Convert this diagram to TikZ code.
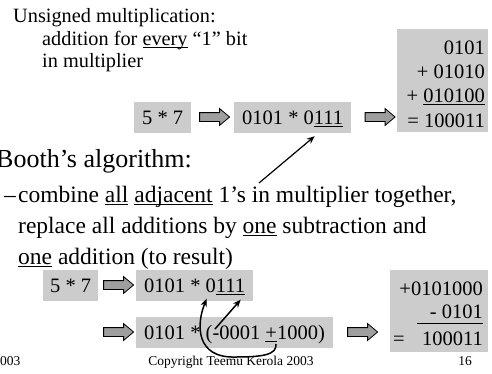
\documentclass[tikz,border=0pt]{standalone}
\usepackage{fontspec}
\setmainfont{Liberation Serif}
\usetikzlibrary{shapes.arrows,arrows.meta}
\definecolor{boxgray}{RGB}{204,204,204}
\definecolor{arrowgray}{RGB}{158,158,158}
% underline drawn as a rule just below the baseline
\newcommand{\undl}[1]{\leavevmode\setbox0=\hbox{#1}\rlap{\rule[-3pt]{\wd0}{0.9pt}}\box0\relax}

\begin{document}
\begin{tikzpicture}[x=1pt,y=-1pt,
  txt/.style={anchor=base west, inner sep=0pt, font=\fontsize{20.3}{24}\selectfont},
  big/.style={anchor=base west, inner sep=0pt, font=\fontsize{26}{30}\selectfont},
  bul/.style={anchor=base west, inner sep=0pt, font=\fontsize{23.5}{28}\selectfont},
  foot/.style={anchor=base, inner sep=0pt, font=\fontsize{13.5}{16}\selectfont},
  gbox/.style={fill=boxgray, anchor=west, minimum height=31pt, text height=14pt,
    text depth=0pt, inner xsep=8pt, inner ysep=0pt, font=\fontsize{20.5}{24}\selectfont},
  sumbox/.style={fill=boxgray, anchor=north west, inner sep=0pt},
  sumline/.style={anchor=base east, inner sep=0pt, font=\fontsize{20.5}{24}\selectfont},
  fatarrow/.style={single arrow, draw=black, fill=arrowgray, line width=0.8pt,
    minimum height=30pt, minimum width=16pt, single arrow head extend=4pt,
    inner xsep=0pt, inner ysep=4pt, single arrow tip angle=80, anchor=center},
  conn/.style={line width=1.5pt, -{Stealth[length=8pt,width=6.5pt]}},
]
\useasboundingbox (0,0) rectangle (492,373);

% heading text
\node[txt] (t1) at (13,22) {Unsigned multiplication:};
\node[txt] (t2) at (42,45) {addition for \undl{every} “1” bit};
\node[txt] (t3) at (42,67) {in multiplier};

% unsigned example
\node[gbox] (n57a) at (134,117) {5 * 7};
\node[fatarrow] (a1) at (212,117) {};
\node[gbox] (m1) at (234,117) {0101 * 0\undl{111}};
\node[fatarrow] (a2) at (377.5,117) {};
\node[sumbox, minimum width=91pt, minimum height=103pt] (s1) at (397,29) {};
\node[sumline] (s1a) at (485,54) {0101};
\node[sumline] (s1b) at (485,78) {+ 01010};
\node[sumline] (s1c) at (485,102) {+ \undl{010100}};
\node[sumline] (s1d) at (485,127) {= 100011};

% Booth section text
\node[big] (t4) at (-4,167) {Booth’s algorithm:};
\node[bul] (t5d) at (4,202) {–};
\node[bul] (t5) at (18,202) {combine \undl{all} \undl{adjacent} 1’s in multiplier together,};
\node[bul] (t6) at (18,233) {replace all additions by \undl{one} subtraction and};
\node[bul] (t7) at (18,264) {\undl{one} addition (to result)};

\coordinate (p1) at (259,183);
\draw[conn, line width=1.2pt] (p1) -- ([xshift=22pt,yshift=-3.5pt]m1.south);

% Booth example
\node[gbox, inner xsep=7pt] (n57b) at (43,285) {5 * 7};
\node[fatarrow] (a3) at (116,285) {};
\node[gbox] (m2) at (136,285) {0101 * 0\undl{111}};
\node[fatarrow] (a4) at (116,332) {};
\node[gbox] (m3) at (136,332) {0101 * (-0001 \undl{+}1000)};
\node[fatarrow] (a5) at (360,332) {};
\node[sumbox, minimum width=98pt, minimum height=82pt] (s2) at (390,270) {};
\node[sumline] (s2a) at (483,295) {+0101000};
\node[sumline] (s2b) at (483,318) {- 0101};
\coordinate (r1) at (417,323);
\coordinate (r2) at (483,323);
\draw[line width=0.9pt] (r1) -- (r2);
\node[sumline, anchor=base west] (s2c) at (393,345) {=};
\node[sumline] (s2d) at (483,345) {100011};

% Booth rewrite: the run of ones becomes -0001 and +1000
\draw[conn] ([xshift=79pt,yshift=3pt]m3.west) -- ([xshift=46pt,yshift=1pt]m2.south);
\draw[conn] ([xshift=140pt,yshift=-12pt]m3.west)
  .. controls (277,355) and (262,357) .. (235,357)
  .. controls (196,358) and (196,325) .. ([xshift=12pt,yshift=2pt]m2.south);

% footer
\node[foot, anchor=base west] (f1) at (0,365) {003};
\node[foot] (f2) at (231,365) {Copyright Teemu Kerola 2003};
\node[foot, anchor=base east] (f3) at (472,365) {16};
\end{tikzpicture}
\end{document}
